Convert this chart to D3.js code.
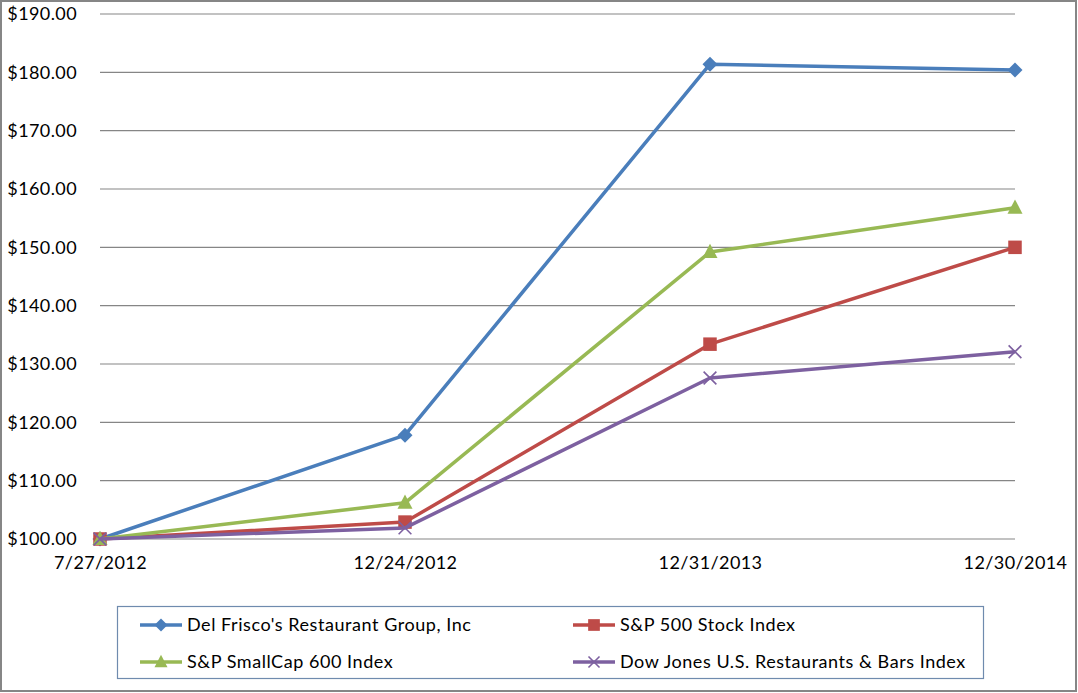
<!DOCTYPE html>
<html><head><meta charset="utf-8">
<script src="https://cdn.jsdelivr.net/npm/d3@7/dist/d3.min.js"></script>
<style>
body{margin:0;background:#fff;}
svg{display:block;font-family:Lato,"Open Sans",sans-serif;}
</style></head>
<body><svg id="c" width="1078" height="693"></svg>
<script>
const categories = ["7/27/2012","12/24/2012","12/31/2013","12/30/2014"];
const seriesNames = ["Del Frisco's Restaurant Group, Inc","S&P 500 Stock Index","S&P SmallCap 600 Index","Dow Jones U.S. Restaurants & Bars Index"];
const delFrisco = [100, 117.8, 181.4, 180.4];
const sp500 = [100, 102.9, 133.4, 150.0];
const smallCap600 = [100, 106.2, 149.2, 156.8];
const dowJonesRest = [100, 101.9, 127.6, 132.1];
const yTicks = [100,110,120,130,140,150,160,170,180,190];

const colors = ["#4A7EBB","#BE4B48","#98B954","#7D60A0"];
const markers = ["diamond","square","triangle","x"];
const data = [delFrisco, sp500, smallCap600, dowJonesRest];
const FS = 18, LS = "0.4px", LSL = "0.55px";

const svg = d3.select("#c");
svg.append("rect").attr("x",1).attr("y",1).attr("width",1075).attr("height",690)
  .attr("fill","#fff").attr("stroke","#868686").attr("stroke-width",2);

const x = d3.scalePoint().domain(categories).range([100,1015]);
const y = d3.scaleLinear().domain([100,190]).range([539,14]);

// grid
svg.append("g").selectAll("line").data(yTicks).join("line")
  .attr("x1",100).attr("x2",1015).attr("y1",d=>y(d)).attr("y2",d=>y(d))
  .attr("stroke","#868686").attr("stroke-width",1.2);

// y axis labels
const yAxis = d3.axisLeft(y).tickValues(yTicks).tickSize(0).tickPadding(0)
  .tickFormat(d=>"$"+d3.format(".2f")(d));
const yg = svg.append("g").attr("transform","translate(77,0)").call(yAxis);
yg.select(".domain").remove();
yg.selectAll("text").attr("font-size",FS).attr("letter-spacing",LS).attr("fill","#000").attr("font-family","Lato,'Open Sans',sans-serif");

// x axis labels
const xAxis = d3.axisBottom(x).tickSize(0).tickPadding(0);
const xg = svg.append("g").attr("transform","translate(0,556)").call(xAxis);
xg.select(".domain").remove();
xg.selectAll("text").attr("font-size",FS).attr("letter-spacing",LS).attr("fill","#000").attr("font-family","Lato,'Open Sans',sans-serif");

function drawMarker(g, type, cx, cy, color, s){
  if(type==="diamond"){
    g.append("path").attr("d",`M${cx},${cy-s}L${cx+s},${cy}L${cx},${cy+s}L${cx-s},${cy}Z`).attr("fill",color);
  } else if(type==="square"){
    g.append("rect").attr("x",cx-s*0.9).attr("y",cy-s*0.9).attr("width",s*1.8).attr("height",s*1.8).attr("fill",color);
  } else if(type==="triangle"){
    g.append("path").attr("d",`M${cx},${cy-s*1.1}L${cx+s},${cy+s*0.8}L${cx-s},${cy+s*0.8}Z`).attr("fill",color);
  } else {
    const d = s*0.85;
    g.append("path").attr("d",`M${cx-d},${cy-d}L${cx+d},${cy+d}M${cx+d},${cy-d}L${cx-d},${cy+d}`)
      .attr("stroke",color).attr("stroke-width",1.6).attr("fill","none");
  }
}

const line = d3.line().x((d,i)=>x(categories[i])).y(d=>y(d));
data.forEach((vals,si)=>{
  const g = svg.append("g");
  g.append("path").datum(vals).attr("d",line).attr("fill","none")
    .attr("stroke",colors[si]).attr("stroke-width",3.5).attr("stroke-linejoin","round");
  vals.forEach((v,i)=>drawMarker(g, markers[si], x(categories[i]), y(v), colors[si], 7.5));
});

// legend
svg.append("rect").attr("x",117.5).attr("y",606.5).attr("width",866).attr("height",72)
  .attr("fill","#fff").attr("stroke","#6F8BAE").attr("stroke-width",1.2);
const legPos = [[140,625],[573,625],[140,662],[573,662]];
seriesNames.forEach((n,i)=>{
  const [lx,ly] = legPos[i];
  const g = svg.append("g");
  g.append("line").attr("x1",lx).attr("x2",lx+42).attr("y1",ly).attr("y2",ly)
    .attr("stroke",colors[i]).attr("stroke-width",3.5);
  drawMarker(g, markers[i], lx+21, ly, colors[i], 6.5);
  g.append("text").attr("x",lx+47).attr("y",ly).attr("dy","0.35em")
    .attr("font-size",FS).attr("letter-spacing",LSL).attr("fill","#000").text(n);
});
</script></body></html>
